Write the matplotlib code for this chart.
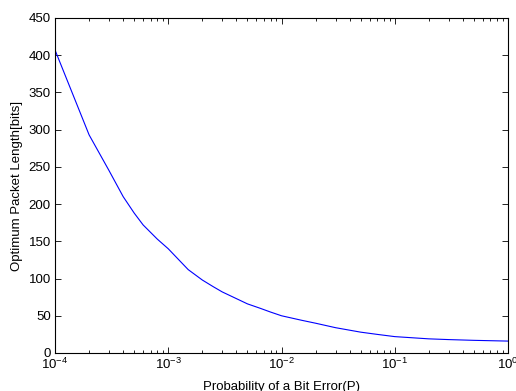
import numpy as np
import matplotlib
matplotlib.use('Agg')
import matplotlib.pyplot as plt
from matplotlib.ticker import LogLocator

plt.rcParams['font.family'] = ['Liberation Sans', 'DejaVu Sans']
plt.rcParams['mathtext.fontset'] = 'custom'
plt.rcParams['mathtext.rm'] = 'Liberation Sans'
plt.rcParams['mathtext.it'] = 'Liberation Sans'

# values
bit_error_prob = [1e-4, 2e-4, 3e-4, 4e-4, 5e-4, 6e-4, 8e-4, 1e-3, 1.5e-3,
                  2e-3, 2.5e-3, 3e-3, 4e-3, 5e-3, 6.5e-3, 8e-3, 1e-2, 1.5e-2,
                  2e-2, 3e-2, 5e-2, 7e-2, 1e-1, 2e-1, 3e-1, 5e-1, 1.0]
packet_length = [407, 293, 245, 210, 188, 172, 153, 140, 112,
                 98, 89, 82, 73, 66, 60, 55, 50, 44,
                 40, 34, 28, 25, 22, 19, 18, 17, 16]

fig = plt.figure(figsize=(5.16, 3.91), dpi=100)
ax = fig.add_axes([0.1066, 0.0972, 0.8779, 0.8568])
ax.plot(bit_error_prob, packet_length, color='blue', linewidth=0.8)
ax.set_xscale('log')
ax.set_xlim(1e-4, 1)
ax.set_ylim(0, 450)
ax.set_yticks(np.arange(0, 451, 50))
ax.xaxis.set_major_locator(LogLocator(base=10, numticks=10))
ax.xaxis.set_minor_locator(LogLocator(base=10, subs=np.arange(2, 10), numticks=10))
ax.tick_params(which='both', direction='in', top=True, right=True, labelsize=9.5)
ax.tick_params(which='major', length=4, width=0.6, pad=3)
ax.tick_params(which='minor', length=2, width=0.6)
for s in ax.spines.values():
    s.set_linewidth(0.8)
ax.set_xlabel('Probability of a Bit Error(P)', fontsize=9.5, labelpad=6)
ax.set_ylabel('Optimum Packet Length[bits]', fontsize=9.5, labelpad=4)

fig.savefig('out.png', dpi=100)
